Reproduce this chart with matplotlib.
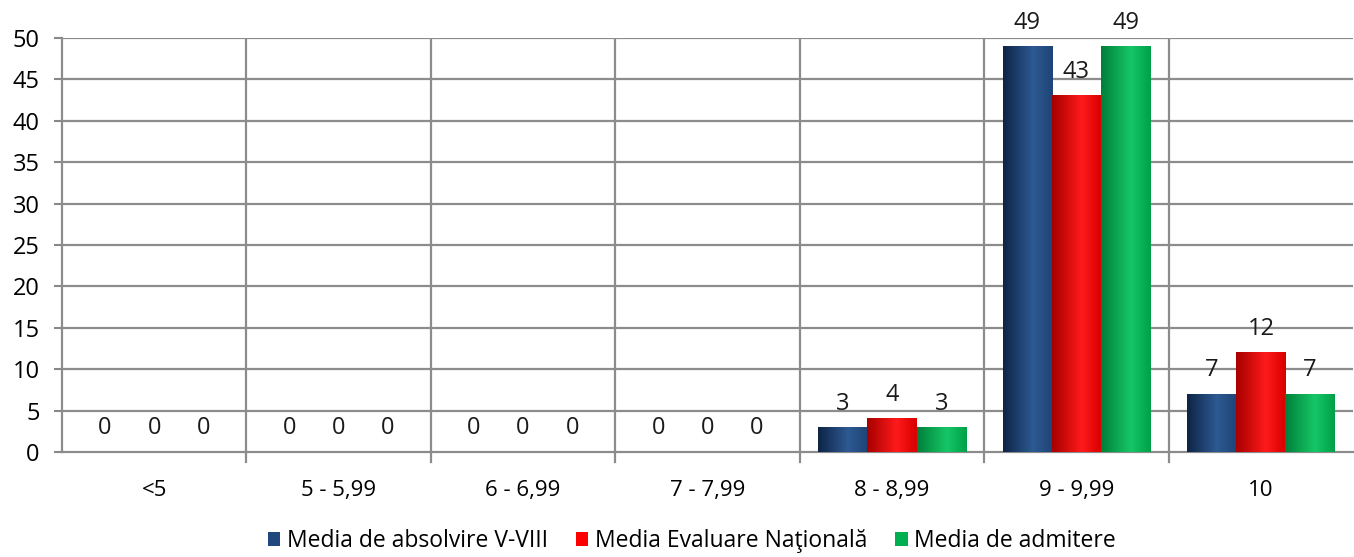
import numpy as np
import matplotlib.pyplot as plt
from matplotlib.colors import LinearSegmentedColormap
from matplotlib.patches import Patch

categories = ['<5', '5 - 5,99', '6 - 6,99', '7 - 7,99', '8 - 8,99', '9 - 9,99', '10']
absolvire = [0, 0, 0, 0, 3, 49, 7]
evaluare = [0, 0, 0, 0, 4, 43, 12]
admitere = [0, 0, 0, 0, 3, 49, 7]
series_names = ['Media de absolvire V-VIII', 'Media Evaluare Naţională', 'Media de admitere']
y_ticks = [0, 5, 10, 15, 20, 25, 30, 35, 40, 45, 50]

# gradient colours: edge, highlight, flat legend colour
styles = [
    (['#0e2447', '#2d5a92', '#1f4477'], '#1f497d'),
    (['#a80000', '#ff1a1a', '#d80000'], '#ff0000'),
    (['#00803a', '#16c766', '#00a04a'], '#00b050'),
]

plt.rcParams['font.family'] = ['Open Sans', 'DejaVu Sans']

fig = plt.figure(figsize=(13.54, 5.57), dpi=100)
ax = fig.add_axes([0.0458, 0.1885, 0.9535, 0.7433])

x = np.arange(len(categories))
width = 0.267
grad = np.linspace(0, 1, 64).reshape(1, -1)

for i, (vals, (cols, flat)) in enumerate(zip([absolvire, evaluare, admitere], styles)):
    cmap = LinearSegmentedColormap.from_list('g%d' % i, [(0, cols[0]), (0.6, cols[1]), (1, cols[2])])
    offs = (i - 1) * width
    for xi, v in zip(x, vals):
        left = xi + offs - width / 2
        if v > 0:
            ax.imshow(grad, cmap=cmap, aspect='auto', extent=(left, left + width, 0, v),
                      zorder=3, interpolation='bicubic')
        ax.text(xi + offs, v + 1.4, str(v), ha='center', va='bottom', fontsize=17, color='#1a1a1a', zorder=4)

ax.set_xlim(-0.5, len(categories) - 0.5)
ax.set_ylim(0, 50)
ax.set_yticks(y_ticks)
ax.tick_params(axis='y', labelsize=17, length=6, color='#888888', width=1.5, pad=10)
ax.set_xticks(x)
ax.set_xticklabels(categories, fontsize=16)
ax.tick_params(axis='x', length=0, pad=20)

for yv in y_ticks[1:]:
    ax.axhline(yv, color='#8c8c8c', lw=1.6, zorder=1)
for b in np.arange(0.5, len(categories) - 0.5):
    ax.axvline(b, color='#8c8c8c', lw=1.6, zorder=1)
    ax.plot([b, b], [0, -1.2], color='#8c8c8c', lw=1.6, clip_on=False)

for side in ['top', 'right']:
    ax.spines[side].set_visible(False)
for side in ['left', 'bottom']:
    ax.spines[side].set_color('#8c8c8c')
    ax.spines[side].set_linewidth(1.6)

handles = [Patch(facecolor=s[1], edgecolor='none') for s in styles]
fig.legend(handles, series_names, loc='lower center', bbox_to_anchor=(0.511, -0.03), ncol=3,
           frameon=False, fontsize=16.5, handlelength=0.55, handleheight=0.55, handletextpad=0.3,
           columnspacing=1.2)

fig.savefig('out.png', dpi=100)
